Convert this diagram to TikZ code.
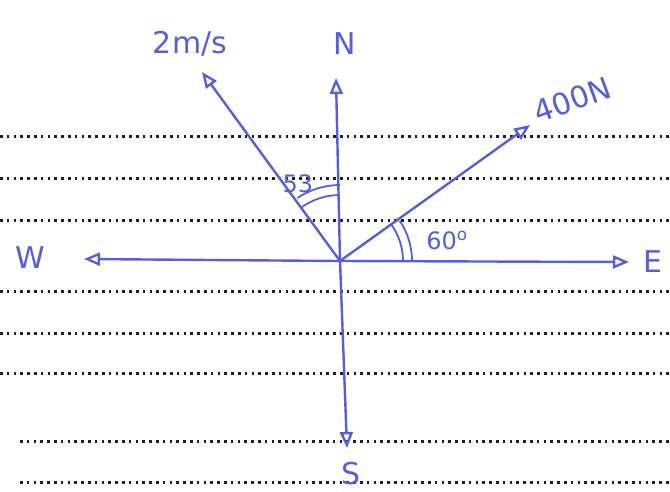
\documentclass[tikz,border=0pt]{standalone}
\usepackage{fontspec}
\setmainfont{DejaVu Sans}
\usetikzlibrary{arrows.meta}
\definecolor{ink}{RGB}{85,95,215}
\definecolor{dots}{RGB}{30,30,40}
\begin{document}
\begin{tikzpicture}[x=1pt,y=-1pt,
  ruled/.style={dots,line width=3pt,dash pattern=on 2.6pt off 4.2pt},
  pen/.style={ink,line width=2.4pt},
  vec/.style={pen,-{Triangle[open,length=16pt,width=13pt]}},
  lbl/.style={ink,font=\fontsize{30}{32}\selectfont},
  small/.style={ink,font=\fontsize{24}{26}\selectfont}]
\useasboundingbox (0,0) rectangle (670,491);
% ruled lines
\foreach \y in {136,178,220,291,333,373}
  \draw[ruled] (0,\y) -- (670,\y);
\foreach \y in {441,482}
  \draw[ruled] (20,\y) -- (670,\y);
% points
\coordinate (O) at (340,261);
\coordinate (Ntip) at (336,78);
\coordinate (Stip) at (347,448);
\coordinate (Etip) at (629,262);
\coordinate (Wtip) at (84,259);
\coordinate (Vtip) at (202,72);
\coordinate (Ftip) at (530,125);
% axes and vectors
\draw[vec] (O) -- (Ntip);
\draw[vec] (O) -- (Stip);
\draw[vec] (O) -- (Etip);
\draw[vec] (O) -- (Wtip);
\draw[vec] (O) -- (Vtip);
\draw[vec] (O) -- (Ftip);
% angle arcs
\draw[pen,line width=1.8pt] ([shift={(-126:66)}]O) arc[start angle=-126,end angle=-90,radius=66];
\draw[pen,line width=1.8pt] ([shift={(-124:76)}]O) arc[start angle=-124,end angle=-90,radius=76];
\draw[pen,line width=1.8pt] ([shift={(0:63)}]O) arc[start angle=0,end angle=-36,radius=63];
\draw[pen,line width=1.8pt] ([shift={(0:72)}]O) arc[start angle=0,end angle=-34,radius=72];
% labels
\node[lbl] (nl) at (345,44) {N};
\node[lbl] (sl) at (351,474) {S};
\node[lbl] (el) at (653,262) {E};
\node[lbl] (wl) at (30,258) {W};
\node[lbl] (vl) at (190,44) {2m/s};
\node[lbl,rotate=20] (fl) at (572,100) {400N};
\node[small] (al) at (298,184) {53};
\node[small] (bl) at (447,240) {60\textsuperscript{o}};
\end{tikzpicture}
\end{document}
